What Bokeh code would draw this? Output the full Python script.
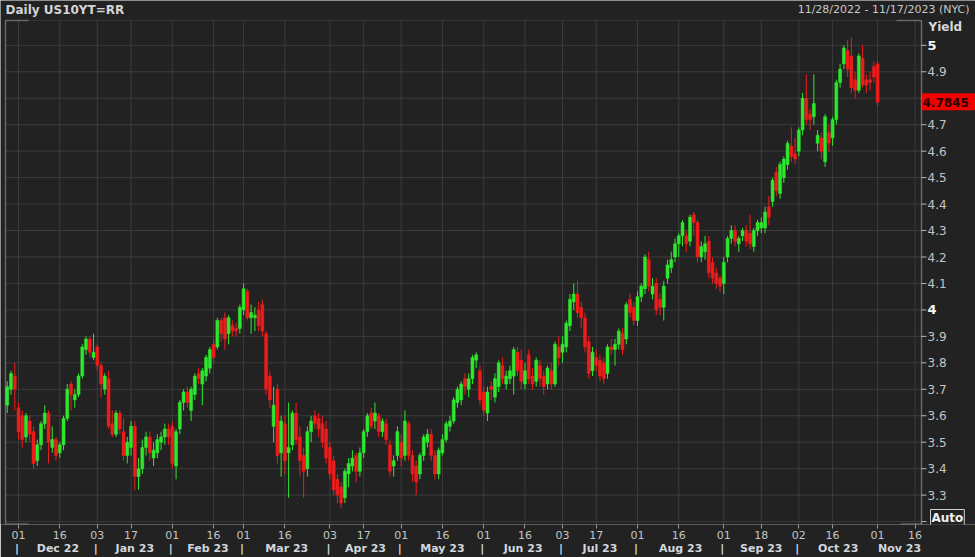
import numpy as np
import pandas as pd
from bokeh.plotting import figure
from bokeh.models import (ColumnDataSource, Range1d, FixedTicker, LinearAxis, Label, BoxAnnotation)
from bokeh.embed import file_html
from bokeh.resources import INLINE

# ---------------- data ----------------
holidays = ["2022-12-26", "2023-01-02", "2023-01-16", "2023-02-20", "2023-04-07", "2023-05-29",
            "2023-06-19", "2023-07-04", "2023-09-04", "2023-10-09", "2023-11-10"]
start_date = "2022-11-28"
axis_end_date = "2023-11-17"

open_ = [3.64,3.70,3.75,3.63,3.60,3.52,3.58,3.54,3.43,3.49,
3.57,3.61,3.48,3.51,3.46,3.49,3.59,3.72,3.66,3.68,
3.75,3.85,3.89,3.82,3.86,3.79,3.70,3.74,3.57,3.53,
3.61,3.54,3.45,3.48,3.56,3.37,3.40,3.48,3.52,3.44,
3.46,3.50,3.52,3.55,3.56,3.41,3.55,3.65,3.69,3.62,
3.68,3.76,3.72,3.75,3.78,3.87,3.86,3.96,3.97,3.91,
3.94,3.93,3.93,4.00,4.07,3.97,3.97,4.00,4.02,3.91,
3.75,3.56,3.70,3.46,3.57,3.46,3.49,3.61,3.52,3.45,
3.40,3.54,3.60,3.59,3.57,3.55,3.48,3.43,3.36,3.33,
3.29,3.38,3.41,3.45,3.39,3.46,3.54,3.61,3.58,3.60,
3.54,3.57,3.49,3.41,3.45,3.50,3.45,3.57,3.45,3.41,
3.38,3.45,3.50,3.53,3.45,3.38,3.46,3.51,3.56,3.58,
3.65,3.66,3.74,3.70,3.74,3.81,3.77,3.69,3.61,3.71,
3.67,3.71,3.79,3.72,3.74,3.75,3.84,3.81,3.72,3.83,
3.75,3.73,3.79,3.75,3.72,3.77,3.72,3.86,3.84,3.86,
3.94,4.03,4.06,4.01,3.97,3.88,3.77,3.82,3.81,3.80,
3.76,3.86,3.85,3.87,3.91,3.89,4.04,4.01,3.96,4.05,
4.08,4.19,4.06,4.10,4.04,4.01,4.12,4.16,4.20,4.25,
4.28,4.28,4.26,4.36,4.33,4.20,4.22,4.26,4.18,4.14,
4.12,4.10,4.20,4.27,4.30,4.25,4.28,4.30,4.29,4.24,
4.30,4.31,4.31,4.39,4.41,4.52,4.44,4.50,4.55,4.62,
4.59,4.60,4.68,4.80,4.74,4.73,4.63,4.65,4.56,4.67,
4.65,4.72,4.86,4.93,4.98,4.96,4.87,4.83,4.95,4.87,
4.87,4.92,4.93]

high = [3.73,3.77,3.80,3.65,3.62,3.61,3.60,3.56,3.51,3.58,
3.64,3.62,3.56,3.52,3.50,3.60,3.72,3.73,3.70,3.76,
3.87,3.90,3.90,3.91,3.87,3.80,3.76,3.77,3.62,3.62,
3.62,3.59,3.52,3.58,3.58,3.44,3.51,3.54,3.54,3.50,
3.53,3.54,3.57,3.57,3.58,3.55,3.66,3.70,3.71,3.71,
3.76,3.78,3.78,3.83,3.86,3.89,3.97,3.97,3.99,3.98,
3.96,3.95,4.02,4.10,4.08,4.02,4.01,4.03,4.04,3.92,
3.77,3.71,3.72,3.60,3.60,3.65,3.62,3.65,3.56,3.48,
3.56,3.60,3.62,3.61,3.60,3.58,3.50,3.45,3.38,3.35,
3.40,3.44,3.47,3.46,3.48,3.55,3.61,3.63,3.65,3.61,
3.59,3.59,3.51,3.45,3.56,3.53,3.62,3.58,3.47,3.43,
3.46,3.53,3.55,3.55,3.47,3.48,3.53,3.58,3.60,3.67,
3.71,3.73,3.76,3.76,3.83,3.84,3.79,3.71,3.71,3.73,
3.76,3.81,3.82,3.77,3.79,3.86,3.86,3.85,3.80,3.85,
3.78,3.82,3.81,3.77,3.79,3.80,3.88,3.90,3.90,3.96,
4.06,4.10,4.11,4.03,3.99,3.90,3.86,3.85,3.83,3.82,
3.87,3.89,3.89,3.93,3.93,4.03,4.06,4.03,4.07,4.10,
4.21,4.22,4.12,4.12,4.06,4.11,4.19,4.22,4.27,4.29,
4.34,4.30,4.36,4.37,4.34,4.26,4.28,4.28,4.20,4.16,
4.13,4.20,4.28,4.32,4.32,4.28,4.31,4.32,4.36,4.31,
4.34,4.35,4.39,4.43,4.50,4.54,4.56,4.58,4.64,4.69,
4.65,4.69,4.82,4.89,4.76,4.89,4.68,4.67,4.74,4.70,
4.73,4.87,4.93,5.00,5.02,5.03,4.90,4.97,5.00,4.89,
4.90,4.94,4.94]

low = [3.61,3.68,3.62,3.51,3.48,3.50,3.50,3.40,3.41,3.47,
3.55,3.42,3.46,3.43,3.44,3.47,3.58,3.62,3.63,3.67,
3.74,3.83,3.82,3.81,3.77,3.67,3.68,3.55,3.52,3.52,
3.53,3.43,3.42,3.45,3.32,3.32,3.38,3.45,3.43,3.41,
3.44,3.47,3.49,3.49,3.40,3.36,3.53,3.62,3.63,3.58,
3.66,3.72,3.64,3.73,3.76,3.80,3.85,3.88,3.85,3.87,
3.90,3.90,3.91,3.98,3.96,3.91,3.92,3.92,3.90,3.68,
3.63,3.50,3.42,3.37,3.38,3.29,3.47,3.49,3.37,3.29,
3.37,3.50,3.55,3.52,3.48,3.42,3.36,3.30,3.27,3.25,
3.27,3.33,3.39,3.35,3.37,3.44,3.52,3.55,3.55,3.52,
3.52,3.49,3.37,3.37,3.43,3.41,3.43,3.43,3.35,3.30,
3.36,3.43,3.48,3.43,3.36,3.36,3.45,3.50,3.54,3.57,
3.63,3.64,3.68,3.67,3.72,3.78,3.64,3.60,3.58,3.66,
3.65,3.69,3.72,3.70,3.72,3.68,3.75,3.70,3.70,3.72,
3.70,3.71,3.71,3.68,3.70,3.70,3.71,3.79,3.80,3.84,
3.92,4.00,3.97,3.93,3.84,3.74,3.75,3.77,3.73,3.72,
3.74,3.83,3.79,3.85,3.83,3.87,3.97,3.94,3.94,4.03,
4.06,4.07,4.04,3.98,3.98,3.96,4.10,4.14,4.18,4.20,
4.24,4.22,4.24,4.28,4.18,4.18,4.19,4.12,4.10,4.08,
4.07,4.06,4.18,4.25,4.24,4.22,4.26,4.24,4.23,4.22,
4.28,4.29,4.29,4.32,4.39,4.43,4.42,4.48,4.53,4.56,
4.55,4.58,4.66,4.70,4.68,4.70,4.60,4.57,4.54,4.60,
4.62,4.70,4.84,4.91,4.88,4.82,4.80,4.82,4.84,4.82,
4.83,4.86,4.77]

close = [3.71,3.76,3.70,3.54,3.51,3.60,3.53,3.42,3.49,3.57,
3.61,3.50,3.51,3.45,3.49,3.59,3.70,3.68,3.68,3.75,
3.86,3.89,3.84,3.84,3.79,3.72,3.75,3.56,3.53,3.61,
3.55,3.45,3.50,3.56,3.37,3.40,3.48,3.52,3.46,3.47,
3.51,3.52,3.55,3.52,3.42,3.54,3.65,3.69,3.65,3.70,
3.75,3.74,3.77,3.82,3.85,3.82,3.96,3.91,3.89,3.97,
3.92,3.92,4.01,4.08,3.97,3.99,3.98,3.94,3.92,3.70,
3.66,3.64,3.45,3.58,3.43,3.48,3.61,3.51,3.43,3.39,
3.54,3.58,3.57,3.55,3.50,3.44,3.38,3.32,3.30,3.27,
3.39,3.42,3.44,3.39,3.46,3.54,3.60,3.56,3.61,3.54,
3.58,3.51,3.39,3.43,3.54,3.44,3.58,3.45,3.38,3.35,
3.45,3.52,3.53,3.45,3.38,3.47,3.51,3.57,3.58,3.66,
3.70,3.72,3.71,3.74,3.82,3.83,3.66,3.62,3.69,3.70,
3.74,3.80,3.74,3.75,3.77,3.85,3.77,3.73,3.77,3.74,
3.72,3.81,3.74,3.71,3.78,3.72,3.87,3.82,3.87,3.95,
4.04,4.06,3.99,3.97,3.86,3.76,3.84,3.79,3.75,3.74,
3.86,3.85,3.87,3.92,3.85,4.02,3.99,3.96,4.05,4.09,
4.20,4.09,4.09,4.00,4.01,4.09,4.17,4.19,4.25,4.28,
4.33,4.25,4.35,4.33,4.20,4.24,4.25,4.14,4.12,4.10,
4.09,4.18,4.27,4.30,4.26,4.27,4.30,4.26,4.25,4.30,
4.33,4.33,4.37,4.35,4.49,4.45,4.55,4.57,4.63,4.58,
4.57,4.68,4.80,4.72,4.72,4.78,4.66,4.60,4.73,4.63,
4.72,4.86,4.91,4.99,4.91,4.84,4.83,4.96,4.85,4.85,
4.86,4.88,4.7845]

last_value = "4.7845"

tick_dates = ["2022-12-01", "2022-12-16", "2023-01-03", "2023-01-17", "2023-02-01", "2023-02-16",
              "2023-03-01", "2023-03-16", "2023-04-03", "2023-04-17", "2023-05-01", "2023-05-16",
              "2023-06-01", "2023-06-16", "2023-07-03", "2023-07-17", "2023-08-01", "2023-08-16",
              "2023-09-01", "2023-09-18", "2023-10-02", "2023-10-16", "2023-11-01", "2023-11-16"]
tick_labels = ["01", "16", "03", "17", "01", "16", "01", "16", "03", "17", "01", "16",
               "01", "16", "03", "17", "01", "16", "01", "18", "02", "16", "01", "16"]
month_starts = ["2022-12-01", "2023-01-03", "2023-02-01", "2023-03-01", "2023-04-03", "2023-05-01",
                "2023-06-01", "2023-07-03", "2023-08-01", "2023-09-01", "2023-10-02", "2023-11-01"]
month_labels = ["Dec 22", "Jan 23", "Feb 23", "Mar 23", "Apr 23", "May 23",
                "Jun 23", "Jul 23", "Aug 23", "Sep 23", "Oct 23", "Nov 23"]
y_ticks = [3.2, 3.3, 3.4, 3.5, 3.6, 3.7, 3.8, 3.9, 4.0, 4.1, 4.2, 4.3, 4.4, 4.5, 4.6, 4.7, 4.8, 4.9, 5.0]
y_tick_labels = ["", "3.3", "3.4", "3.5", "3.6", "3.7", "3.8", "3.9", "4", "4.1", "4.2", "4.3",
                 "4.4", "4.5", "4.6", "4.7", "4.8", "4.9", "5"]
y_bold = ["4", "5"]

title_left = "Daily US10YT=RR"
title_right = "11/28/2022 - 11/17/2023 (NYC)"
axis_title = "Yield"
auto_text = "Auto"

assert len(open_) == len(high) == len(low) == len(close)

# ---------------- trading-day positions ----------------
all_days = pd.bdate_range(start_date, axis_end_date)
days = [d.strftime("%Y-%m-%d") for d in all_days if d.strftime("%Y-%m-%d") not in holidays]
pos = {d: i for i, d in enumerate(days)}

n = len(close)
x = np.arange(n)
o = np.array(open_); c = np.array(close); h = np.array(high); l = np.array(low)
GREEN = "#2ee82e"
RED = "#ee1c1c"
colors = [GREEN if cc >= oo else RED for oo, cc in zip(open_, close)]
src = ColumnDataSource(dict(x=x, top=np.maximum(o, c), bottom=np.minimum(o, c),
                            high=np.maximum(h, np.maximum(o, c)), low=np.minimum(l, np.minimum(o, c)),
                            color=colors))

# ---------------- layout geometry ----------------
W, H = 975, 557
AX_H = 32                      # height of the two date axes below
FRAME_H = H - AX_H             # 525
PL, PR, PT = 5, 921, 20        # plot box inside the frame (px)
XA, XB = -0.47, 243.7          # data x at PL / PR
YA, YB = 3.189, 5.094          # data y at bottom / PT
kx = (PR - PL) / (XB - XA)
ky = (FRAME_H - PT) / (YB - YA)
x_start = XA - PL / kx
x_end = XB + (W - PR) / kx
y_end = YB + PT / ky

BG = "#222222"
GRID = "#3c3c3c"
TXT = "#c4c4c4"
FONT = "DejaVu Sans"

p = figure(width=W, height=H, x_range=Range1d(x_start, x_end), y_range=Range1d(YA, y_end),
           output_backend="svg", toolbar_location=None,
           x_axis_location="below", y_axis_location=None,
           min_border_left=0, min_border_right=0, min_border_top=0, min_border_bottom=AX_H,
           background_fill_color=BG, border_fill_color=BG, outline_line_color=None)

# grid lines limited to the plot box
tick_pos = [pos[d] for d in tick_dates]
p.xgrid.visible = False
p.ygrid.visible = False
p.segment(x0=tick_pos, y0=[YA] * len(tick_pos), x1=tick_pos, y1=[YB] * len(tick_pos),
          line_color=GRID, line_width=1)
p.segment(x0=[XA] * len(y_ticks), y0=y_ticks, x1=[XB] * len(y_ticks), y1=y_ticks,
          line_color=GRID, line_width=1)

# plot box outline + white edges
p.add_layout(BoxAnnotation(left=XA, right=XB, bottom=YA, top=YB, fill_alpha=0,
                           line_color="#606060", line_width=1))
p.add_layout(BoxAnnotation(left=XA, right=XA, bottom=YA, top=YB, fill_alpha=0,
                           line_color="#e8e8e8", line_width=1.5))
p.add_layout(BoxAnnotation(left=XB, right=XB, bottom=YA, top=YB, fill_alpha=0,
                           line_color="#f0f0f0", line_width=1.5))
for (a, b, yy) in [(XA, XA + 23 / kx, YB), (XA, XA + 23 / kx, YA + 0.6 / ky),
                   (XB - 25 / kx, XB, YB), (XB - 21 / kx, XB, YA + 0.6 / ky)]:
    p.add_layout(BoxAnnotation(left=a, right=b, bottom=yy, top=yy, fill_alpha=0,
                               line_color="#e8e8e8", line_width=1.5))

# candles
p.segment(x0="x", y0="low", x1="x", y1="high", color="color", line_width=1, source=src)
p.vbar(x="x", width=0.8, top="top", bottom="bottom", fill_color="color", line_color="color",
       line_width=0.5, source=src)

# x axis (day numbers)
day_ticker = FixedTicker(ticks=tick_pos)
xa = p.xaxis[0]
xa.ticker = day_ticker
xa.major_label_overrides = {tp: lab for tp, lab in zip(tick_pos, tick_labels)}
xa.axis_line_color = None
xa.major_tick_out = 4
xa.major_tick_in = 0
xa.major_tick_line_color = "#9a9a9a"
xa.minor_tick_line_color = None
xa.major_label_standoff = 2
xa.major_label_text_color = TXT
xa.major_label_text_font = FONT
xa.major_label_text_font_size = "11px"

# month axis, with "|" separators at month starts
ms_pos = [pos[d] for d in month_starts]
mids = [(ms_pos[i] + (ms_pos[i + 1] if i + 1 < len(ms_pos) else XB)) / 2.0 for i in range(len(ms_pos))]
seps = [v - 0.4 for v in ms_pos[:-1]]
m_over = {m: lab for m, lab in zip(mids, month_labels)}
m_over.update({s: "|" for s in seps})
month_axis = LinearAxis(ticker=FixedTicker(ticks=sorted(mids + seps), minor_ticks=[]),
                        major_label_overrides=m_over)
month_axis.axis_line_color = None
month_axis.major_tick_line_color = None
month_axis.minor_tick_line_color = None
month_axis.major_tick_out = 0
month_axis.major_tick_in = 0
month_axis.minor_tick_out = 0
month_axis.minor_tick_in = 0
month_axis.major_label_standoff = 0
month_axis.major_label_text_color = "#d2d6de"
month_axis.major_label_text_font = FONT
month_axis.major_label_text_font_style = "bold"
month_axis.major_label_text_font_size = "11px"
p.add_layout(month_axis, "below")

# y axis on the right edge of the plot box (ticks + labels)
p.segment(x0=[XB] * len(y_ticks), y0=y_ticks, x1=[XB + 5 / kx] * len(y_ticks), y1=y_ticks,
          line_color="#b8b8b8", line_width=1)

def lab(**kw):
    base = dict(x_units="screen", y_units="screen", text_font=FONT, text_baseline="middle")
    base.update(kw)
    p.add_layout(Label(**base))

for v, t in zip(y_ticks, y_tick_labels):
    if not t:
        continue
    if t in y_bold:
        lab(x=PR + 6, y=v, y_units="data", text=t, text_color="#f4f4f4", text_font_style="bold",
            text_font_size="13px")
    else:
        lab(x=PR + 6, y=v, y_units="data", text=t, text_color=TXT, text_font_size="12px")

lab(x=PL, y=FRAME_H - 10, text=title_left, text_color="#d4d4d4", text_font_style="bold",
    text_font_size="12px")
lab(x=969, y=FRAME_H - 10, text=title_right, text_align="right", text_color="#c8c8c8",
    text_font_size="11px")
lab(x=PR + 7, y=FRAME_H - 27, text=axis_title, text_color="#d8d8d8", text_font_style="bold",
    text_font_size="12px")
lab(x=PR + 9, y=FRAME_H - 518, text=auto_text, text_color="#f0f0f0", text_font_style="bold",
    text_font_size="12px", border_line_color="#d0d0d0", background_fill_color=BG, padding=1)

# last-value tag
lv = float(last_value)
p.add_layout(BoxAnnotation(left=XB + 0.5 / kx, right=x_end, bottom=lv - 8 / ky, top=lv + 9 / ky,
                           fill_color="#f40000", fill_alpha=1.0, line_color=None))
lab(x=PR + 1, y=lv, y_units="data", text=last_value, text_color="#240000",
    text_font_style="bold", text_font_size="12px")

open("out.html", "w").write(file_html(p, INLINE))
